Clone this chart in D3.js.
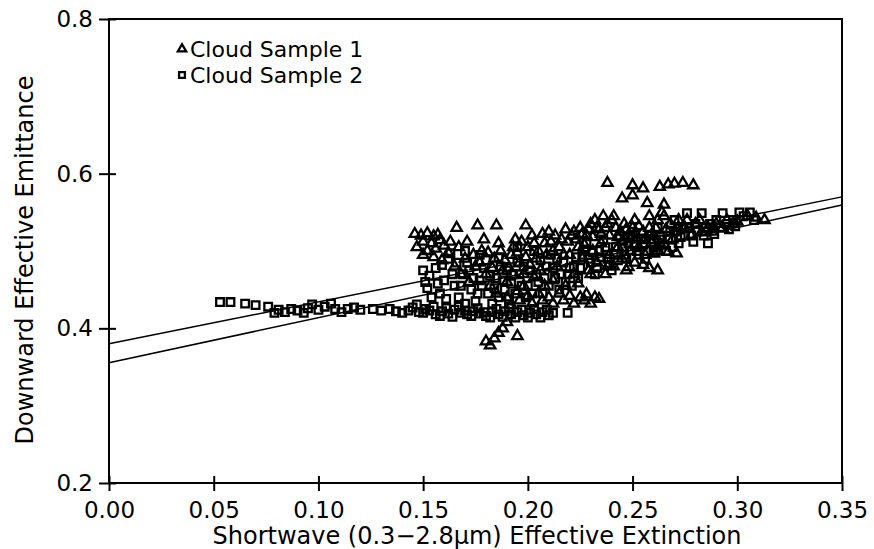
<!DOCTYPE html>
<meta charset="utf-8">
<style>
body { margin: 0; background: #fff; }
text { font-family: "DejaVu Sans", sans-serif; fill: #000; }
.frame { fill: none; stroke: #000; stroke-width: 2; }
.tick line { stroke: #000; stroke-width: 2; }
.fit { fill: none; stroke: #000; stroke-width: 1.5; }
.mark { fill: none; stroke: #000; stroke-width: 2.3; }
</style>
<body>
<svg width="874" height="549"></svg>
<script src="https://d3js.org/d3.v7.min.js"></script>
<script>

// x ticks / y ticks
var xTicks = [0, 0.05, 0.10, 0.15, 0.20, 0.25, 0.30, 0.35];
var yTicks = [0.2, 0.4, 0.6, 0.8];

// regression lines: [x, y] end points
var fit1 = [[0, 0.380], [0.35, 0.570]];
var fit2 = [[0, 0.3555], [0.35, 0.5595]];

// Cloud Sample 1 (triangles)
var sample1 = [
  [0.146,0.522],[0.149,0.520],[0.152,0.523],[0.155,0.519],[0.157,0.521],[0.150,0.512],[0.154,0.510],
  [0.158,0.514],[0.147,0.505],[0.152,0.500],[0.156,0.503],[0.160,0.507],[0.162,0.498],[0.155,0.492],
  [0.166,0.530],[0.176,0.533],[0.185,0.533],[0.199,0.533],
  [0.165,0.480],[0.168,0.470],[0.170,0.490],[0.172,0.460],[0.175,0.480],[0.178,0.500],[0.180,0.470],
  [0.182,0.455],[0.184,0.490],[0.186,0.510],[0.188,0.475],[0.190,0.460],[0.192,0.495],[0.194,0.515],
  [0.196,0.485],[0.198,0.470],[0.200,0.505],[0.202,0.520],[0.204,0.490],[0.206,0.475],[0.208,0.510],
  [0.210,0.525],[0.212,0.500],[0.214,0.480],[0.216,0.515],[0.218,0.528],[0.220,0.495],[0.222,0.470],
  [0.185,0.445],[0.190,0.440],[0.195,0.448],[0.200,0.442],[0.205,0.445],[0.210,0.440],[0.215,0.445],
  [0.220,0.442],[0.225,0.440],[0.228,0.444],[0.232,0.440],[0.198,0.455],[0.208,0.455],[0.218,0.455],
  [0.182,0.378],[0.184,0.387],[0.186,0.394],[0.188,0.400],[0.190,0.408],[0.195,0.390],[0.180,0.383],
  [0.222,0.525],[0.225,0.530],[0.228,0.520],[0.230,0.535],[0.232,0.540],[0.234,0.528],[0.236,0.545],
  [0.238,0.535],[0.240,0.540],[0.242,0.530],[0.244,0.525],[0.246,0.535],[0.248,0.520],[0.250,0.530],
  [0.252,0.515],[0.255,0.525],[0.258,0.530],[0.260,0.520],[0.262,0.540],[0.264,0.550],[0.265,0.545],
  [0.268,0.535],[0.270,0.525],[0.272,0.540],[0.275,0.530],[0.278,0.520],[0.280,0.535],[0.283,0.525],
  [0.286,0.530],[0.290,0.535],[0.295,0.540],[0.300,0.538],[0.305,0.545],[0.309,0.543],[0.313,0.540],
  [0.224,0.505],[0.226,0.490],[0.229,0.475],[0.231,0.500],[0.233,0.485],[0.235,0.510],[0.237,0.470],
  [0.239,0.495],[0.241,0.480],[0.243,0.505],[0.245,0.490],[0.247,0.475],[0.249,0.500],[0.251,0.485],
  [0.253,0.505],[0.256,0.495],[0.259,0.510],[0.262,0.500],
  [0.248,0.479],[0.255,0.482],[0.258,0.478],[0.262,0.475],[0.260,0.497],[0.267,0.499],[0.271,0.497],
  [0.238,0.480],[0.230,0.470],
  [0.238,0.588],[0.250,0.585],[0.255,0.581],[0.263,0.583],[0.267,0.586],[0.270,0.587],[0.274,0.588],
  [0.279,0.585],[0.245,0.568],[0.250,0.572],[0.257,0.562],[0.265,0.560],
  [0.150,0.495],[0.159,0.488],[0.163,0.512],[0.167,0.505],[0.171,0.512],[0.174,0.495],[0.177,0.485],
  [0.179,0.515],[0.181,0.498],[0.183,0.478],[0.187,0.500],[0.189,0.488],[0.191,0.478],[0.193,0.505],
  [0.195,0.498],[0.197,0.512],[0.199,0.492],[0.201,0.482],[0.203,0.510],[0.205,0.500],[0.207,0.522],
  [0.209,0.495],[0.211,0.512],[0.213,0.520],[0.215,0.505],[0.217,0.495],[0.219,0.512],[0.221,0.520],
  [0.223,0.515],[0.226,0.522],[0.227,0.508],[0.229,0.528],[0.231,0.518],[0.233,0.530],[0.235,0.522],
  [0.237,0.530],[0.239,0.520],[0.241,0.545],[0.243,0.518],[0.245,0.512],[0.247,0.528],[0.249,0.515],
  [0.251,0.540],[0.253,0.532],[0.256,0.515],[0.258,0.545],[0.261,0.530],[0.263,0.510],[0.266,0.528],
  [0.269,0.515],[0.272,0.530],[0.276,0.540],[0.282,0.540],[0.288,0.525],[0.293,0.530],[0.298,0.535],
  [0.192,0.430],[0.196,0.436],[0.202,0.432],[0.207,0.436],[0.212,0.432],[0.217,0.436],[0.222,0.432],
  [0.227,0.436],[0.230,0.432],[0.234,0.438],[0.212,0.462],[0.224,0.458],[0.203,0.466]
];

// Cloud Sample 2 (squares)
var sample2 = [
  [0.053,0.434],[0.058,0.434],[0.065,0.432],[0.070,0.430],[0.076,0.428],[0.079,0.420],[0.081,0.424],
  [0.084,0.421],[0.087,0.425],[0.090,0.423],[0.093,0.420],[0.095,0.426],[0.097,0.431],[0.100,0.424],
  [0.103,0.428],[0.106,0.432],[0.108,0.425],[0.111,0.421],[0.114,0.425],[0.117,0.427],[0.120,0.424],
  [0.126,0.425],[0.130,0.423],[0.134,0.425],[0.137,0.422],[0.140,0.420],[0.143,0.423],[0.145,0.427],
  [0.147,0.431],[0.148,0.421],
  [0.150,0.420],[0.153,0.423],[0.156,0.418],[0.159,0.422],[0.162,0.419],[0.165,0.424],[0.168,0.420],
  [0.171,0.418],[0.174,0.422],[0.177,0.419],[0.180,0.416],[0.183,0.421],[0.186,0.418],[0.189,0.422],
  [0.192,0.418],[0.195,0.421],[0.198,0.417],[0.201,0.420],[0.204,0.418],[0.207,0.421],[0.210,0.417],
  [0.219,0.420],
  [0.150,0.475],[0.153,0.468],[0.156,0.478],[0.152,0.452],[0.158,0.445],[0.160,0.462],[0.162,0.490],
  [0.165,0.455],[0.167,0.440],[0.169,0.470],[0.171,0.485],[0.173,0.450],[0.175,0.435],[0.177,0.462],
  [0.179,0.478],[0.181,0.445],[0.183,0.432],[0.185,0.465],[0.187,0.480],[0.189,0.450],[0.191,0.438],
  [0.193,0.470],[0.195,0.485],[0.197,0.455],[0.199,0.440],[0.201,0.475],[0.203,0.500],[0.205,0.460],
  [0.207,0.445],[0.209,0.480],[0.211,0.495],[0.213,0.465],[0.215,0.450],[0.217,0.485],[0.219,0.470],
  [0.221,0.455],[0.163,0.497],[0.170,0.500],[0.177,0.495],[0.186,0.492],[0.195,0.505],
  [0.222,0.480],[0.224,0.465],[0.226,0.495],[0.228,0.510],[0.230,0.485],[0.232,0.470],[0.234,0.500],
  [0.236,0.515],[0.238,0.490],[0.240,0.475],[0.242,0.505],[0.244,0.520],[0.246,0.495],[0.248,0.510],
  [0.250,0.525],[0.252,0.500],[0.254,0.515],[0.256,0.490],[0.258,0.520],[0.260,0.505],[0.262,0.530],
  [0.264,0.515],[0.266,0.500],[0.268,0.525],[0.270,0.540],[0.272,0.510],[0.274,0.530],[0.276,0.549],
  [0.278,0.520],[0.280,0.535],[0.283,0.549],[0.285,0.525],[0.286,0.510],[0.288,0.530],[0.290,0.540],
  [0.293,0.549],[0.295,0.535],[0.298,0.540],[0.301,0.550],[0.303,0.545],[0.306,0.550],[0.308,0.540],
  [0.151,0.425],[0.155,0.428],[0.158,0.416],[0.161,0.426],[0.164,0.415],[0.167,0.428],[0.170,0.423],
  [0.173,0.416],[0.176,0.426],[0.179,0.421],[0.182,0.414],[0.185,0.425],[0.188,0.415],[0.191,0.426],
  [0.194,0.414],[0.197,0.424],[0.200,0.414],[0.203,0.425],[0.206,0.414],[0.209,0.424],[0.212,0.420],
  [0.151,0.460],[0.154,0.440],[0.157,0.458],[0.159,0.482],[0.161,0.438],[0.164,0.470],[0.166,0.485],
  [0.168,0.455],[0.170,0.432],[0.172,0.475],[0.174,0.465],[0.176,0.445],[0.178,0.455],[0.180,0.488],
  [0.182,0.468],[0.184,0.452],[0.186,0.440],[0.188,0.462],[0.190,0.475],[0.192,0.458],[0.194,0.445],
  [0.196,0.470],[0.198,0.480],[0.200,0.455],[0.202,0.445],[0.204,0.470],[0.206,0.488],[0.208,0.465],
  [0.210,0.455],[0.212,0.478],[0.214,0.490],[0.216,0.470],[0.218,0.460],[0.220,0.478],
  [0.223,0.492],[0.225,0.478],[0.227,0.502],[0.229,0.490],[0.231,0.498],[0.233,0.478],[0.235,0.492],
  [0.237,0.505],[0.239,0.482],[0.241,0.495],[0.243,0.488],[0.245,0.505],[0.247,0.490],[0.249,0.518],
  [0.251,0.508],[0.253,0.495],[0.255,0.508],[0.257,0.500],[0.259,0.515],[0.261,0.498],[0.263,0.520],
  [0.265,0.508],[0.267,0.515],[0.269,0.505],[0.271,0.525],[0.273,0.518],[0.275,0.520],[0.277,0.530],
  [0.279,0.512],[0.281,0.525],[0.284,0.520],[0.287,0.535],[0.289,0.522],[0.292,0.530],[0.296,0.528],
  [0.299,0.532]
];

var legendLabels = ["Cloud Sample 1", "Cloud Sample 2"];

var svg = d3.select("svg");
var plotLeft = 109, plotRight = 842, plotTop = 19, plotBottom = 483;

var x = d3.scaleLinear().domain([0, 0.35]).range([plotLeft, plotRight]);
var y = d3.scaleLinear().domain([0.2, 0.8]).range([plotBottom, plotTop]);

var triangle = d3.symbol().type(d3.symbolTriangle).size(46);
var square = d3.symbol().type(d3.symbolSquare).size(58);

// regression lines
var line = d3.line()
    .x(function(d) { return x(d[0]); })
    .y(function(d) { return y(d[1]); });

svg.selectAll(".fit")
    .data([fit1, fit2])
  .enter().append("path")
    .attr("class", "fit")
    .attr("d", line);

svg.append("g").selectAll("path")
    .data(sample2)
  .enter().append("path")
    .attr("class", "mark")
    .attr("transform", function(d) { return "translate(" + x(d[0]) + "," + y(d[1]) + ")"; })
    .attr("d", square);

svg.append("g").selectAll("path")
    .data(sample1)
  .enter().append("path")
    .attr("class", "mark")
    .attr("transform", function(d) { return "translate(" + x(d[0]) + "," + y(d[1]) + ")"; })
    .attr("d", triangle);

// frame
svg.append("rect")
    .attr("class", "frame")
    .attr("x", plotLeft)
    .attr("y", plotTop)
    .attr("width", plotRight - plotLeft)
    .attr("height", plotBottom - plotTop);

// axes
var xAxis = svg.append("g")
    .attr("transform", "translate(0," + plotBottom + ")")
    .call(d3.axisBottom(x)
      .tickValues(xTicks)
      .tickSizeInner(8)
      .tickSizeOuter(0)
      .tickPadding(11)
      .tickFormat(d3.format(".2f")));
xAxis.select(".domain").remove();
xAxis.selectAll(".tick line").attr("y1", -7);
xAxis.selectAll("text")
    .attr("font-size", 23)
    .attr("font-family", "DejaVu Sans");

var yAxis = svg.append("g")
    .attr("transform", "translate(" + plotLeft + ",0)")
    .call(d3.axisLeft(y)
      .tickValues(yTicks)
      .tickSizeInner(10)
      .tickSizeOuter(0)
      .tickPadding(6)
      .tickFormat(d3.format(".1f")));
yAxis.select(".domain").remove();
yAxis.selectAll(".tick line").attr("x1", 7);
yAxis.selectAll("text")
    .attr("font-size", 23)
    .attr("font-family", "DejaVu Sans");

// axis titles
svg.append("text")
    .attr("x", 477)
    .attr("y", 544)
    .attr("text-anchor", "middle")
    .attr("font-size", 24)
    .text("Shortwave (0.3\u22122.8\u03bcm) Effective Extinction");

svg.append("text")
    .attr("transform", "translate(33,260) rotate(-90)")
    .attr("text-anchor", "middle")
    .attr("font-size", 24)
    .text("Downward Effective Emittance");

// legend
var legend = svg.append("g").selectAll("g")
    .data(legendLabels)
  .enter().append("g")
    .attr("transform", function(d, i) { return "translate(182," + (49 + i * 26) + ")"; });

legend.append("path")
    .attr("class", "mark")
    .attr("stroke-width", 1.5)
    .attr("d", function(d, i) { return i == 0 ? d3.symbol().type(d3.symbolTriangle).size(30)() : d3.symbol().type(d3.symbolSquare).size(34)(); });

legend.append("text")
    .attr("x", 8)
    .attr("y", 8)
    .attr("font-size", 22)
    .text(function(d) { return d; });

</script>
